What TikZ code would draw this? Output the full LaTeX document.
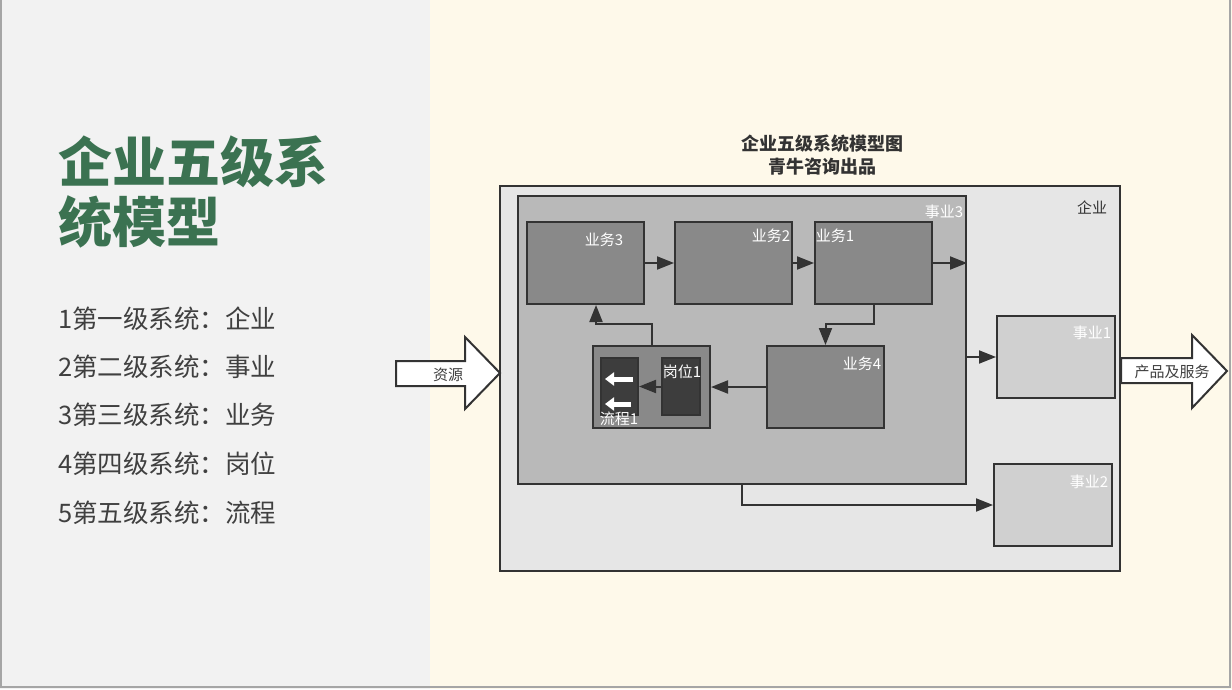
\documentclass[tikz,border=0pt]{standalone}
\usepackage{fontspec}
\setmainfont{Noto Sans CJK SC}
\usetikzlibrary{arrows.meta,calc}
\definecolor{leftbg}{HTML}{F2F2F2}
\definecolor{rightbg}{HTML}{FEF9EA}
\definecolor{titlegreen}{HTML}{3B7251}
\definecolor{listgray}{HTML}{404040}
\definecolor{edge}{HTML}{333333}
\definecolor{entfill}{HTML}{E6E6E6}
\definecolor{sy3fill}{HTML}{B9B9B9}
\definecolor{yefill}{HTML}{898989}
\definecolor{darkfill}{HTML}{3D3D3D}
\definecolor{syfill}{HTML}{D0D0D0}
\begin{document}
\begin{tikzpicture}[x=1pt,y=-1pt,
  box/.style={draw=edge, line width=2pt, inner sep=0pt, minimum width=117pt, minimum height=82pt},
  lbl/.style={text=white, inner sep=0pt, font=\fontsize{15}{16}\selectfont},
  dlbl/.style={text=edge, inner sep=0pt, font=\fontsize{15}{16}\selectfont},
  conn/.style={draw=edge, line width=2pt, -{Triangle[length=17pt,width=13pt]}},
  listitem/.style={anchor=west, inner sep=0pt, text=listgray, font=\fontsize{25.5}{28}\selectfont},
  bigarrow/.style={draw=edge, line width=2pt, fill=white, line join=miter}
]
\useasboundingbox (0,0) rectangle (1232,689);
\fill[leftbg] (0,0) rectangle (430,689);
\fill[rightbg] (430,0) rectangle (1232,689);
\draw[gray!70, line width=1.5pt] (1,0) -- (1,687) -- (1230,687) -- (1230,0);

% left panel text
\node[anchor=west, align=left, inner sep=0pt, text=titlegreen,
      font=\fontsize{54}{60}\selectfont\bfseries] (title) at (58,192) {企业五级系\\统模型};
\node[listitem] (l1) at (58,319) {1第一级系统：企业};
\node[listitem] (l2) at (58,367) {2第二级系统：事业};
\node[listitem] (l3) at (58,415) {3第三级系统：业务};
\node[listitem] (l4) at (58,464) {4第四级系统：岗位};
\node[listitem] (l5) at (58,513) {5第五级系统：流程};

% diagram title
\node[align=center, inner sep=0pt, text=edge, font=\fontsize{18}{23}\selectfont\bfseries] (dtitle) at (822,155.5) {企业五级系统模型图\\青牛咨询出品};

% boxes
\node[box, fill=entfill, minimum width=620pt, minimum height=385pt] (ent) at (810,378.5) {};
\node[dlbl] (entl) at (1092,208) {企业};
\node[box, fill=sy3fill, minimum width=448pt, minimum height=288pt] (sy3) at (742,340) {};
\node[lbl] (sy3l) at (944,212) {事业3};

\node[box, fill=yefill] (ye3) at (585.5,263) {};
\node[box, fill=yefill] (ye2) at (733.5,263) {};
\node[box, fill=yefill] (ye1) at (873.5,263) {};
\node[box, fill=yefill] (ye4) at (825.5,387) {};
\node[box, fill=yefill] (gw) at (651.5,387) {};
\node[box, fill=darkfill, minimum width=37pt, minimum height=57pt] (lc1) at (619.5,386.5) {};
\node[box, fill=darkfill, minimum width=38pt, minimum height=57pt] (gw1) at (681,386.5) {};

\node[lbl] (ye3l) at (604,240) {业务3};
\node[lbl] (ye2l) at (771,236) {业务2};
\node[lbl] (ye1l) at (835,236) {业务1};
\node[lbl] (ye4l) at (862,364) {业务4};
\node[lbl] (gw1l) at (682,372) {岗位1};
\node[lbl] (lc1l) at (619,419) {流程1};

\node[box, fill=syfill, minimum width=118pt] (sy1) at (1056,357) {};
\node[box, fill=syfill, minimum width=118pt] (sy2) at (1053,505) {};
\node[lbl] (sy1l) at (1092,333) {事业1};
\node[lbl] (sy2l) at (1089,482) {事业2};

% white arrows inside 流程1
\draw[white, line width=5pt, -{Triangle[length=9pt,width=13pt]}] (633,379) -- (605,379);
\draw[white, line width=5pt, -{Triangle[length=9pt,width=13pt]}] (631,404) -- (605,404);

% connectors
\coordinate (sy3out) at (sy3.east |- ye1.east);
\draw[conn] (ye3.east) -- (ye2.west);
\draw[conn] (ye2.east) -- (ye1.west);
\draw[conn] (ye1.east) -- (sy3out);
\draw[conn] (ye1.south) -- ++(0,19) -| (ye4.north);
\draw[conn] (ye4.west) -- (gw.east);
\draw[conn] (gw1.west) -- (lc1.east);
\draw[conn] (gw.north) -- ++(0,-21) -| ([xshift=10.5pt]ye3.south);
\draw[conn] (sy3.east |- sy1.west) -- (sy1.west);
\draw[conn] (sy3.south) |- (sy2.west);

% block arrows
\draw[bigarrow] (396,361) -- (465,361) -- (465,337) -- (500,373) -- (465,409) -- (465,386) -- (396,386) -- cycle;
\node[dlbl, text=listgray] (res) at (448,375) {资源};
\draw[bigarrow] (ent.east |- 0,358) -- (1192,358) -- (1192,335) -- (1227,371) -- (1192,408) -- (1192,383) -- (ent.east |- 0,383) -- cycle;
\node[dlbl, text=listgray] (prod) at (1172,372) {产品及服务};
\end{tikzpicture}
\end{document}
